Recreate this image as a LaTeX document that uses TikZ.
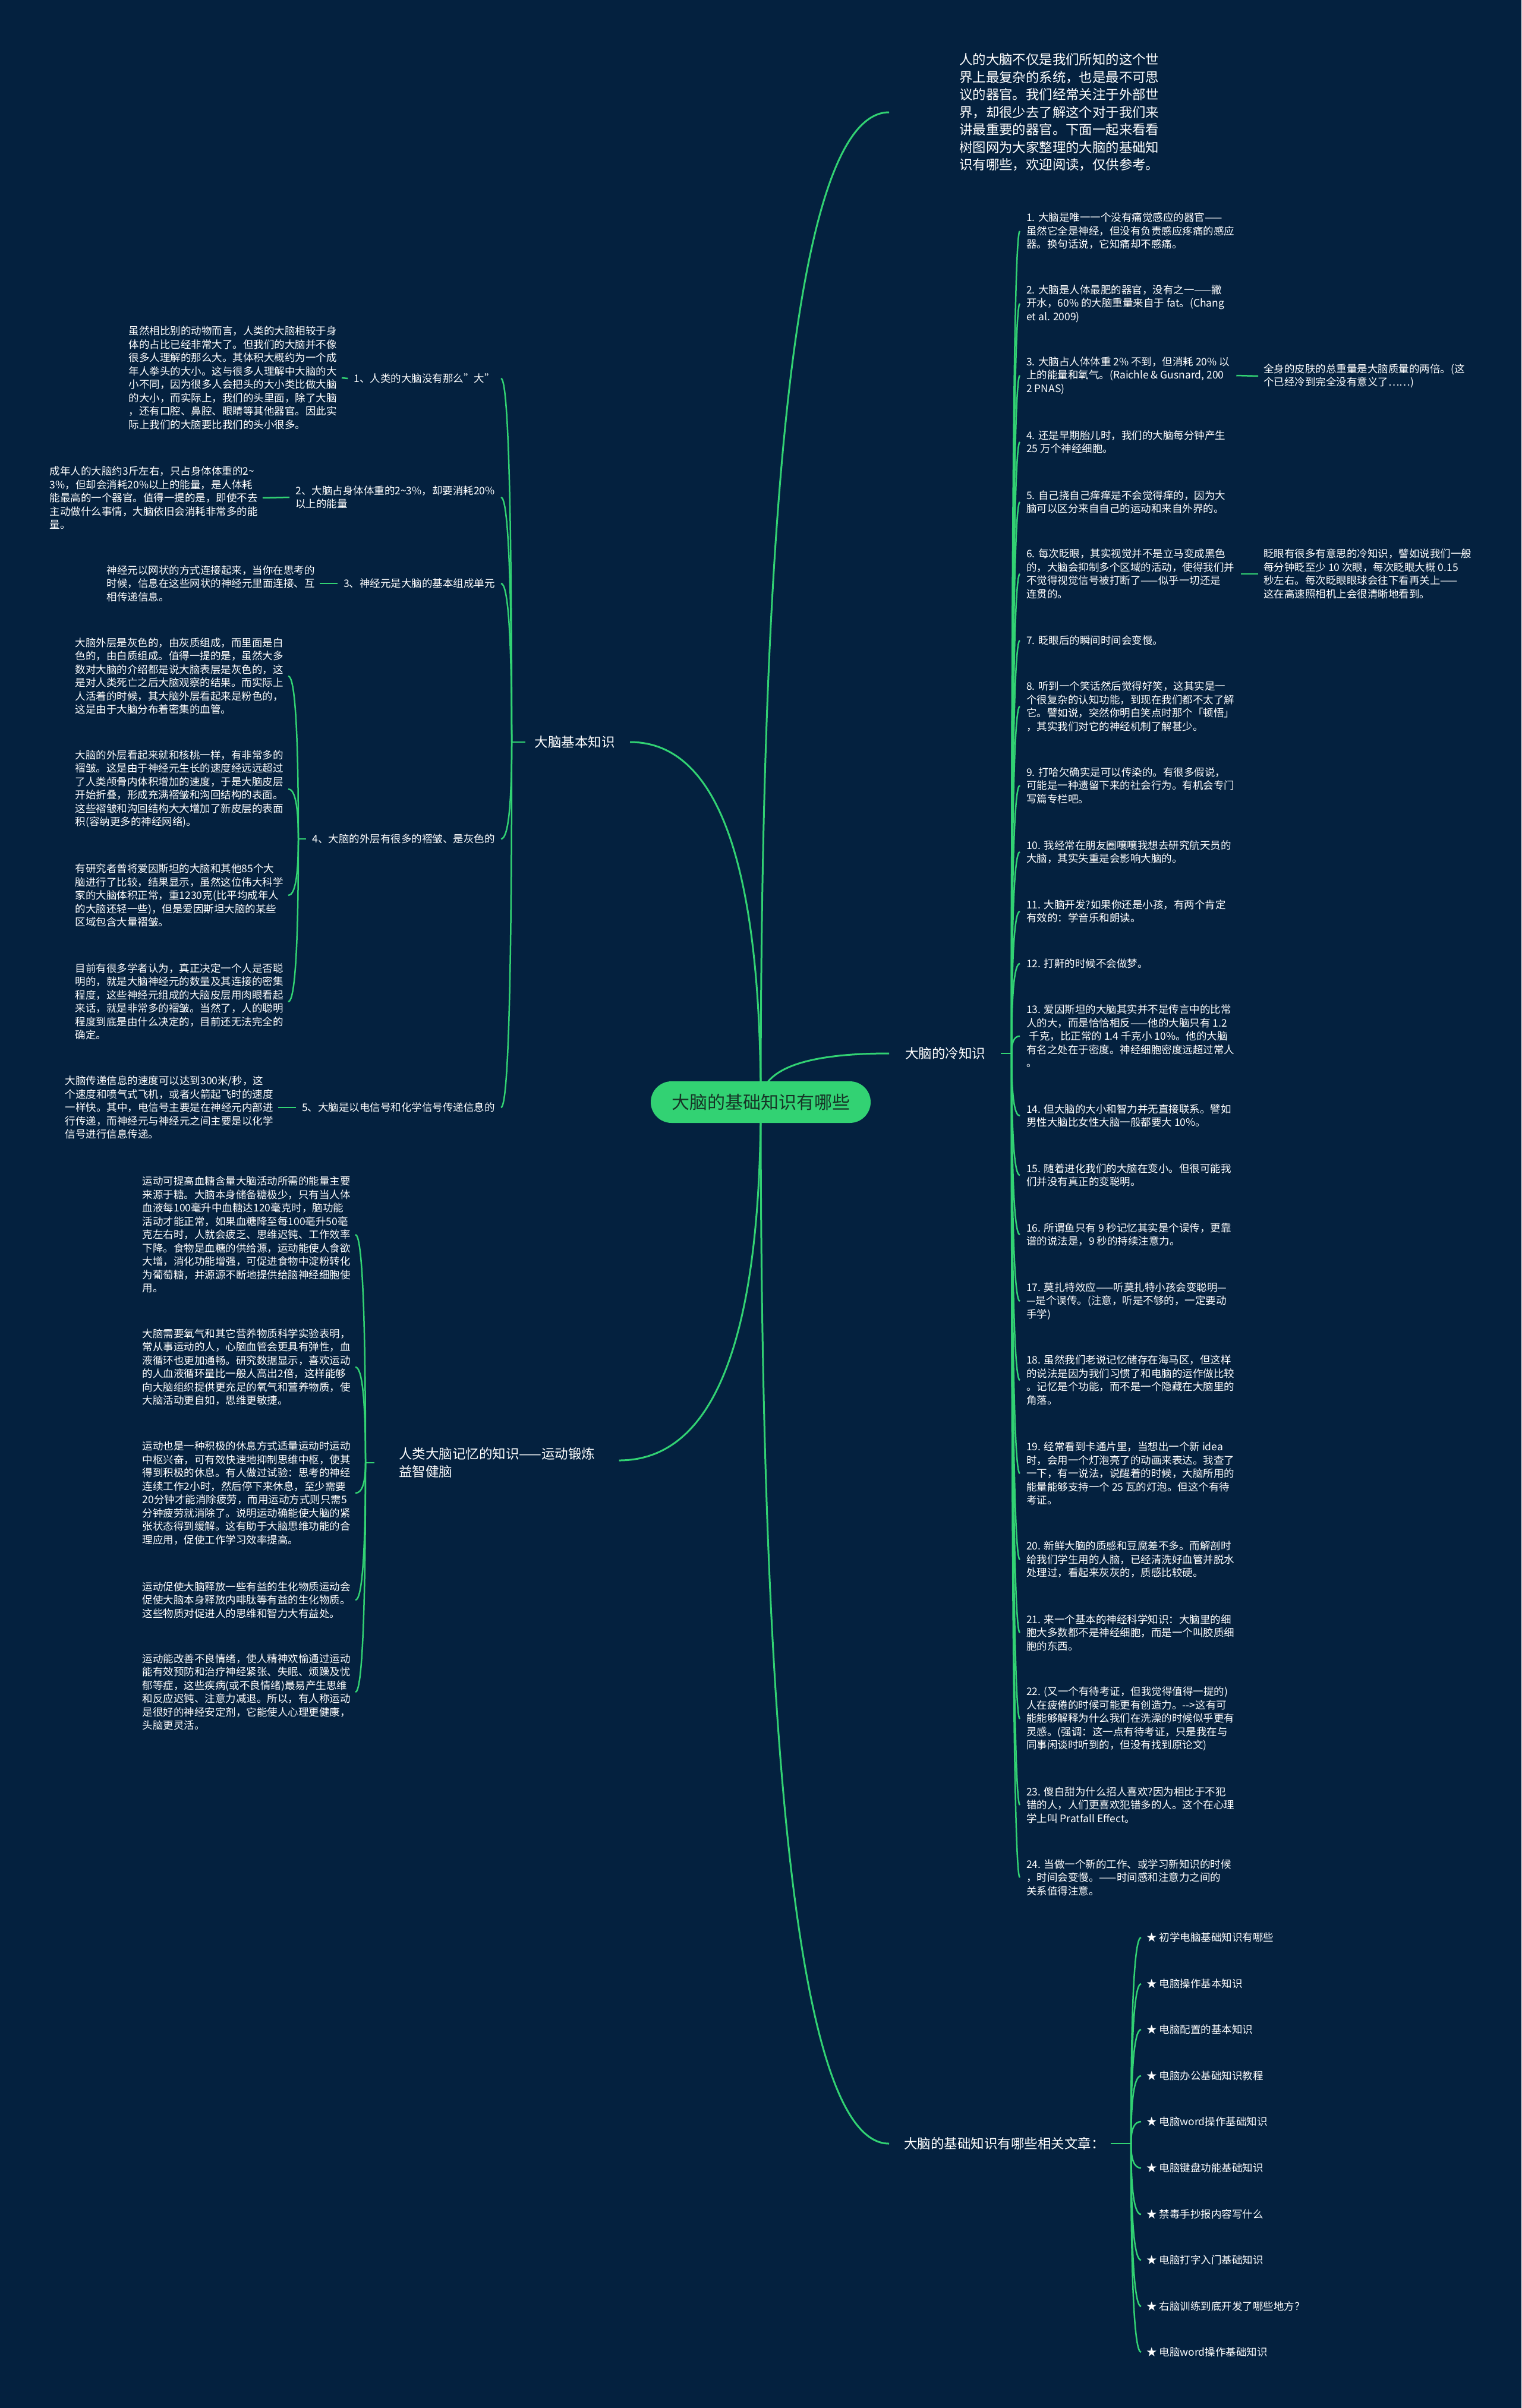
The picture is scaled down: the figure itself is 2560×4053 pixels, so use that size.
\documentclass[tikz,border=0pt]{standalone}
\usepackage{fontspec}
\setmainfont{Noto Sans CJK SC}
\usetikzlibrary{calc,backgrounds}
\definecolor{bgc}{RGB}{4,33,63}
\definecolor{lg}{RGB}{50,210,115}
\definecolor{rootfill}{RGB}{50,210,115}
\definecolor{roottext}{RGB}{22,52,38}
\newcommand{\mmlink}[3][conn]{\draw[#1] (#2) .. controls ($(#2)!0.6667!(#2 |- #3)$) and ($(#3)!0.6667!(#2 |- #3)$) .. (#3);}
\tikzset{
  txt/.style={text=white, font=\fontsize{17.5}{22.5}\selectfont, align=left, inner ysep=0pt},
  itemR/.style={txt, anchor=west, inner xsep=11pt},
  itemL/.style={txt, anchor=east, inner xsep=8pt},
  lblL/.style={txt, anchor=east, inner xsep=10pt},
  sidenote/.style={txt, anchor=west, inner xsep=9pt},
  linkitem/.style={txt, anchor=west, inner xsep=9pt},
  brlabel/.style={text=white, font=\fontsize{22.5}{30}\selectfont, align=left, inner sep=0pt},
  conn/.style={draw=lg, line width=2.5pt},
  mainconn/.style={draw=lg, line width=3pt},
}
\begin{document}
\begin{tikzpicture}[x=1pt,y=-1pt]
\useasboundingbox (0,0) rectangle (2560,4053);

% root
\node[fill=rootfill, rounded corners=35pt, minimum width=370pt, minimum height=70pt, text=roottext, font=\fontsize{30}{36}\selectfont, inner sep=0pt] (root) at (1280,1855) {大脑的基础知识有哪些};

% branch labels
\node[brlabel, anchor=west, font=\fontsize{22.4}{29.5}\selectfont] (intro) at (1614,189) {人的大脑不仅是我们所知的这个世\\界上最复杂的系统，也是最不可思\\议的器官。我们经常关注于外部世\\界，却很少去了解这个对于我们来\\讲最重要的器官。下面一起来看看\\树图网为大家整理的大脑的基础知\\识有哪些，欢迎阅读，仅供参考。};
\node[brlabel, anchor=west] (cold) at (1523,1773) {大脑的冷知识};
\node[brlabel, anchor=west] (links) at (1521,3608) {大脑的基础知识有哪些相关文章：};
\node[brlabel, anchor=east] (basic) at (1035,1249) {大脑基本知识};
\node[brlabel, anchor=west] (mem) at (671,2462) {人类大脑记忆的知识——运动锻炼\\益智健脑};

\coordinate (introIn) at ($(intro.west)+(-118,0)$);
\coordinate (coldIn) at ($(cold.west)+(-27,0)$);
\coordinate (linksIn) at ($(links.west)+(-25,0)$);
\coordinate (basicIn) at ($(basic.east)+(25,0)$);
\coordinate (memIn) at ($(mem.east)+(40,-4)$);

% spine origins
\coordinate (coldO) at (1702,1773);
\coordinate (linkO) at (1903,3608);
\coordinate (basicO) at (861,1249);
\coordinate (sub4O) at (502,1412);
\coordinate (memO) at (615,2462);

% ---------- cold knowledge items ----------
\node[itemR] (it1) at (1716,389) {1. 大脑是唯一一个没有痛觉感应的器官——\\虽然它全是神经，但没有负责感应疼痛的感应\\器。换句话说，它知痛却不感痛。};
\node[itemR] (it2) at (1716,511) {2. 大脑是人体最肥的器官，没有之一——撇\\开水，60\% 的大脑重量来自于 fat。(Chang\\et al. 2009)};
\node[itemR] (it3) at (1716,632) {3. 大脑占人体体重 2\% 不到，但消耗 20\% 以\\上的能量和氧气。(Raichle \& Gusnard, 200\\2 PNAS)};
\node[itemR] (it4) at (1716,744) {4. 还是早期胎儿时，我们的大脑每分钟产生\\25 万个神经细胞。};
\node[itemR] (it5) at (1716,845) {5. 自己挠自己痒痒是不会觉得痒的，因为大\\脑可以区分来自自己的运动和来自外界的。};
\node[itemR] (it6) at (1716,966) {6. 每次眨眼，其实视觉并不是立马变成黑色\\的，大脑会抑制多个区域的活动，使得我们并\\不觉得视觉信号被打断了——似乎一切还是\\连贯的。};
\node[itemR] (it7) at (1716,1078) {7. 眨眼后的瞬间时间会变慢。};
\node[itemR] (it8) at (1716,1189) {8. 听到一个笑话然后觉得好笑，这其实是一\\个很复杂的认知功能，到现在我们都不太了解\\它。譬如说，突然你明白笑点时那个「顿悟」\\，其实我们对它的神经机制了解甚少。};
\node[itemR] (it9) at (1716,1322) {9. 打哈欠确实是可以传染的。有很多假说，\\可能是一种遗留下来的社会行为。有机会专门\\写篇专栏吧。};
\node[itemR] (it10) at (1716,1434) {10. 我经常在朋友圈嚷嚷我想去研究航天员的\\大脑，其实失重是会影响大脑的。};
\node[itemR] (it11) at (1716,1534) {11. 大脑开发?如果你还是小孩，有两个肯定\\有效的：学音乐和朗读。};
\node[itemR] (it12) at (1716,1622) {12. 打鼾的时候不会做梦。};
\node[itemR] (it13) at (1716,1744) {13. 爱因斯坦的大脑其实并不是传言中的比常\\人的大，而是恰恰相反——他的大脑只有 1.2\\\hspace*{4.5pt}千克，比正常的 1.4 千克小 10\%。他的大脑\\有名之处在于密度。神经细胞密度远超过常人\\。};
\node[itemR] (it14) at (1716,1878) {14. 但大脑的大小和智力并无直接联系。譬如\\男性大脑比女性大脑一般都要大 10\%。};
\node[itemR] (it15) at (1716,1978) {15. 随着进化我们的大脑在变小。但很可能我\\们并没有真正的变聪明。};
\node[itemR] (it16) at (1716,2078) {16. 所谓鱼只有 9 秒记忆其实是个误传，更靠\\谱的说法是，9 秒的持续注意力。};
\node[itemR] (it17) at (1716,2190) {17. 莫扎特效应——听莫扎特小孩会变聪明—\\—是个误传。(注意，听是不够的，一定要动\\手学)};
\node[itemR] (it18) at (1716,2323) {18. 虽然我们老说记忆储存在海马区，但这样\\的说法是因为我们习惯了和电脑的运作做比较\\。记忆是个功能，而不是一个隐藏在大脑里的\\角落。};
\node[itemR] (it19) at (1716,2480) {19. 经常看到卡通片里，当想出一个新 idea\\时，会用一个灯泡亮了的动画来表达。我查了\\一下，有一说法，说醒着的时候，大脑所用的\\能量能够支持一个 25 瓦的灯泡。但这个有待\\考证。};
\node[itemR] (it20) at (1716,2625) {20. 新鲜大脑的质感和豆腐差不多。而解剖时\\给我们学生用的人脑，已经清洗好血管并脱水\\处理过，看起来灰灰的，质感比较硬。};
\node[itemR] (it21) at (1716,2748) {21. 来一个基本的神经科学知识：大脑里的细\\胞大多数都不是神经细胞，而是一个叫胶质细\\胞的东西。};
\node[itemR] (it22) at (1716,2893) {22. (又一个有待考证，但我觉得值得一提的)\\人在疲倦的时候可能更有创造力。{-}{-}>这有可\\能能够解释为什么我们在洗澡的时候似乎更有\\灵感。(强调：这一点有待考证，只是我在与\\同事闲谈时听到的，但没有找到原论文)};
\node[itemR] (it23) at (1716,3038) {23. 傻白甜为什么招人喜欢?因为相比于不犯\\错的人，人们更喜欢犯错多的人。这个在心理\\学上叫 Pratfall Effect。};
\node[itemR] (it24) at (1716,3160) {24. 当做一个新的工作、或学习新知识的时候\\，时间会变慢。——时间感和注意力之间的\\关系值得注意。};

\node[sidenote] (n3) at (2117,633) {全身的皮肤的总重量是大脑质量的两倍。(这\\个已经冷到完全没有意义了……)};
\node[sidenote] (n6) at (2117,966) {眨眼有很多有意思的冷知识，譬如说我们一般\\每分钟眨至少 10 次眼，每次眨眼大概 0.15\\秒左右。每次眨眼眼球会往下看再关上——\\这在高速照相机上会很清晰地看到。};

% ---------- related articles ----------
\node[linkitem] (lk1) at (1920,3261) {★ 初学电脑基础知识有哪些};
\node[linkitem] (lk2) at (1920,3339) {★ 电脑操作基本知识};
\node[linkitem] (lk3) at (1920,3416) {★ 电脑配置的基本知识};
\node[linkitem] (lk4) at (1920,3494) {★ 电脑办公基础知识教程};
\node[linkitem] (lk5) at (1920,3571) {★ 电脑word操作基础知识};
\node[linkitem] (lk6) at (1920,3649) {★ 电脑键盘功能基础知识};
\node[linkitem] (lk7) at (1920,3727) {★ 禁毒手抄报内容写什么};
\node[linkitem] (lk8) at (1920,3804) {★ 电脑打字入门基础知识};
\node[linkitem] (lk9) at (1920,3882) {★ 右脑训练到底开发了哪些地方？};
\node[linkitem] (lk10) at (1920,3959) {★ 电脑word操作基础知识};

% ---------- basic knowledge ----------
\node[lblL] (L1) at (843,637) {1、人类的大脑没有那么"大"};
\node[lblL] (L2) at (843,837) {2、大脑占身体体重的2\textasciitilde 3\%，却要消耗20\%\\以上的能量};
\node[lblL] (L3) at (843,982) {3、神经元是大脑的基本组成单元};
\node[lblL] (L4) at (843,1412) {4、大脑的外层有很多的褶皱、是灰色的};
\node[lblL] (L5) at (843,1864) {5、大脑是以电信号和化学信号传递信息的};

\node[itemL] (P1) at (575,636) {虽然相比别的动物而言，人类的大脑相较于身\\体的占比已经非常大了。但我们的大脑并不像\\很多人理解的那么大。其体积大概约为一个成\\年人拳头的大小。这与很多人理解中大脑的大\\小不同，因为很多人会把头的大小类比做大脑\\的大小，而实际上，我们的头里面，除了大脑\\，还有口腔、鼻腔、眼睛等其他器官。因此实\\际上我们的大脑要比我们的头小很多。};
\node[itemL] (P2) at (442,838) {成年人的大脑约3斤左右，只占身体体重的2\textasciitilde\\3\%，但却会消耗20\%以上的能量，是人体耗\\能最高的一个器官。值得一提的是，即使不去\\主动做什么事情，大脑依旧会消耗非常多的能\\量。};
\node[itemL] (P3) at (538,982) {神经元以网状的方式连接起来，当你在思考的\\时候，信息在这些网状的神经元里面连接、互\\相传递信息。};
\node[itemL] (P4a) at (485,1138) {大脑外层是灰色的，由灰质组成，而里面是白\\色的，由白质组成。值得一提的是，虽然大多\\数对大脑的介绍都是说大脑表层是灰色的，这\\是对人类死亡之后大脑观察的结果。而实际上\\人活着的时候，其大脑外层看起来是粉色的，\\这是由于大脑分布着密集的血管。};
\node[itemL] (P4b) at (485,1328) {大脑的外层看起来就和核桃一样，有非常多的\\褶皱。这是由于神经元生长的速度经远远超过\\了人类颅骨内体积增加的速度，于是大脑皮层\\开始折叠，形成充满褶皱和沟回结构的表面。\\这些褶皱和沟回结构大大增加了新皮层的表面\\积(容纳更多的神经网络)。};
\node[itemL] (P4c) at (485,1507) {有研究者曾将爱因斯坦的大脑和其他85个大\\脑进行了比较，结果显示，虽然这位伟大科学\\家的大脑体积正常，重1230克(比平均成年人\\的大脑还轻一些)，但是爱因斯坦大脑的某些\\区域包含大量褶皱。};
\node[itemL] (P4d) at (485,1686) {目前有很多学者认为，真正决定一个人是否聪\\明的，就是大脑神经元的数量及其连接的密集\\程度，这些神经元组成的大脑皮层用肉眼看起\\来话，就是非常多的褶皱。当然了，人的聪明\\程度到底是由什么决定的，目前还无法完全的\\确定。};
\node[itemL] (P5) at (468,1864) {大脑传递信息的速度可以达到300米/秒，这\\个速度和喷气式飞机，或者火箭起飞时的速度\\一样快。其中，电信号主要是在神经元内部进\\行传递，而神经元与神经元之间主要是以化学\\信号进行信息传递。};

% ---------- memory / exercise ----------
\node[itemL] (MA) at (598,2078) {运动可提高血糖含量大脑活动所需的能量主要\\来源于糖。大脑本身储备糖极少，只有当人体\\血液每100毫升中血糖达120毫克时，脑功能\\活动才能正常，如果血糖降至每100毫升50毫\\克左右时，人就会疲乏、思维迟钝、工作效率\\下降。食物是血糖的供给源，运动能使人食欲\\大增，消化功能增强，可促进食物中淀粉转化\\为葡萄糖，并源源不断地提供给脑神经细胞使\\用。};
\node[itemL] (MB) at (598,2301) {大脑需要氧气和其它营养物质科学实验表明，\\常从事运动的人，心脑血管会更具有弹性，血\\液循环也更加通畅。研究数据显示，喜欢运动\\的人血液循环量比一般人高出2倍，这样能够\\向大脑组织提供更充足的氧气和营养物质，使\\大脑活动更自如，思维更敏捷。};
\node[itemL] (MC) at (598,2513) {运动也是一种积极的休息方式适量运动时运动\\中枢兴奋，可有效快速地抑制思维中枢，使其\\得到积极的休息。有人做过试验：思考的神经\\连续工作2小时，然后停下来休息，至少需要\\20分钟才能消除疲劳，而用运动方式则只需5\\分钟疲劳就消除了。说明运动确能使大脑的紧\\张状态得到缓解。这有助于大脑思维功能的合\\理应用，促使工作学习效率提高。};
\node[itemL] (MD) at (598,2693) {运动促使大脑释放一些有益的生化物质运动会\\促使大脑本身释放内啡肽等有益的生化物质。\\这些物质对促进人的思维和智力大有益处。};
\node[itemL] (ME) at (598,2848) {运动能改善不良情绪，使人精神欢愉通过运动\\能有效预防和治疗神经紧张、失眠、烦躁及忧\\郁等症，这些疾病(或不良情绪)最易产生思维\\和反应迟钝、注意力减退。所以，有人称运动\\是很好的神经安定剂，它能使人心理更健康，\\头脑更灵活。};

% ---------- connectors ----------
\draw[conn] ($(cold.east)+(26,0)$) -- (coldO);
\foreach \i in {1,...,24} {\mmlink{coldO}{it\i.west}}
\draw[conn] (it3.east) -- (n3.west);
\draw[conn] (it6.east) -- (n6.west);

\draw[conn] ($(links.east)+(10,0)$) -- (linkO);
\foreach \i in {1,...,10} {\mmlink{linkO}{lk\i.west}}

\draw[conn] (basicO) -- ($(basic.west)+(-16,0)$);
\foreach \i in {1,...,5} {\mmlink{basicO}{L\i.east}}
\draw[conn] (P1.east) -- (L1.west);
\draw[conn] (P2.east) -- (L2.west);
\draw[conn] (P3.east) -- (L3.west);
\draw[conn] (P5.east) -- (L5.west);
\draw[conn] (L4.west) -- (sub4O);
\foreach \i in {a,b,c,d} {\mmlink{sub4O}{P4\i.east}}

\draw[conn] (memO) -- ($(mem.west)+(-41,0)$);
\foreach \i in {A,B,C,D,E} {\mmlink{memO}{M\i.east}}

\begin{scope}[on background layer]
  \fill[bgc] (0,0) rectangle (2560,4053);
  \mmlink[mainconn]{root.center}{introIn}
  \mmlink[mainconn]{root.center}{coldIn}
  \mmlink[mainconn]{root.center}{linksIn}
  \mmlink[mainconn]{root.center}{basicIn}
  \mmlink[mainconn]{root.center}{memIn}
\end{scope}
\end{tikzpicture}
\end{document}
